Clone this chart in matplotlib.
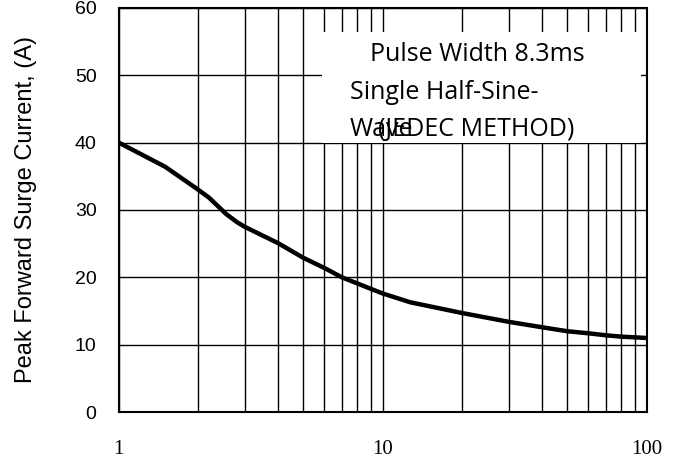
import matplotlib.pyplot as plt
from matplotlib.patches import Rectangle
from matplotlib.ticker import FixedLocator, NullFormatter

# curve
cycles = [1, 1.5, 2, 2.2, 2.55, 2.8, 3, 4, 5, 6, 7, 8, 9, 10, 12.7, 20, 30, 40, 50, 60, 70, 80, 90, 100]
current = [40, 36.4, 33.0, 31.8, 29.4, 28.2, 27.5, 25.1, 22.9, 21.4, 20.0, 19.1, 18.3, 17.6, 16.3, 14.7, 13.4, 12.6, 12.0, 11.7, 11.4, 11.2, 11.1, 11.0]

x_ticks = [1, 10, 100]
x_labels = ["1", "10", "100"]
y_ticks = [0, 10, 20, 30, 40, 50, 60]

fig = plt.figure(figsize=(6.75, 4.61), dpi=100)
ax = fig.add_axes([0.176, 0.106, 0.7825, 0.877])

ax.plot(cycles, current, color="black", lw=3.2, solid_capstyle="butt", zorder=3)

ax.set_xscale("log")
ax.set_xlim(1, 100)
ax.set_ylim(0, 60)

minor = [m * d for d in (1, 10) for m in range(2, 10)]
ax.xaxis.set_major_locator(FixedLocator(x_ticks))
ax.xaxis.set_minor_locator(FixedLocator(minor))
ax.xaxis.set_minor_formatter(NullFormatter())
ax.set_xticks(x_ticks)
ax.set_xticklabels(x_labels, family="Liberation Serif", fontsize=15)
ax.set_yticks(y_ticks)
ax.set_yticklabels([str(v) for v in y_ticks], family="Liberation Sans", fontsize=14)
ax.tick_params(axis="both", which="both", length=0)
ax.tick_params(axis="y", pad=16)
ax.tick_params(axis="x", pad=20)

ax.set_axisbelow(True)
ax.grid(True, which="both", color="black", lw=1.0)
for s in ax.spines.values():
    s.set_linewidth(1.5)
    s.set_zorder(4)

ax.set_ylabel("Peak Forward Surge Current, (A)", family="Liberation Sans", fontsize=17)
ax.yaxis.set_label_coords(-0.155, 0.5)

# white box hiding the grid behind the note
ax.add_patch(Rectangle((0.384, 0.666), 0.605, 0.275, transform=ax.transAxes,
                       facecolor="white", edgecolor="none", zorder=1))

note_font = dict(family="Open Sans", fontsize=18, transform=ax.transAxes,
                 ha="left", va="center", zorder=5)
ax.text(0.475, 0.884, "Pulse Width 8.3ms", **note_font)
ax.text(0.4375, 0.790, "Single Half-Sine-", **note_font)
ax.text(0.4375, 0.698, "Wave", **note_font)
ax.text(0.4905, 0.698, "(JEDEC METHOD)", **note_font)

fig.savefig("out.png", dpi=100)
